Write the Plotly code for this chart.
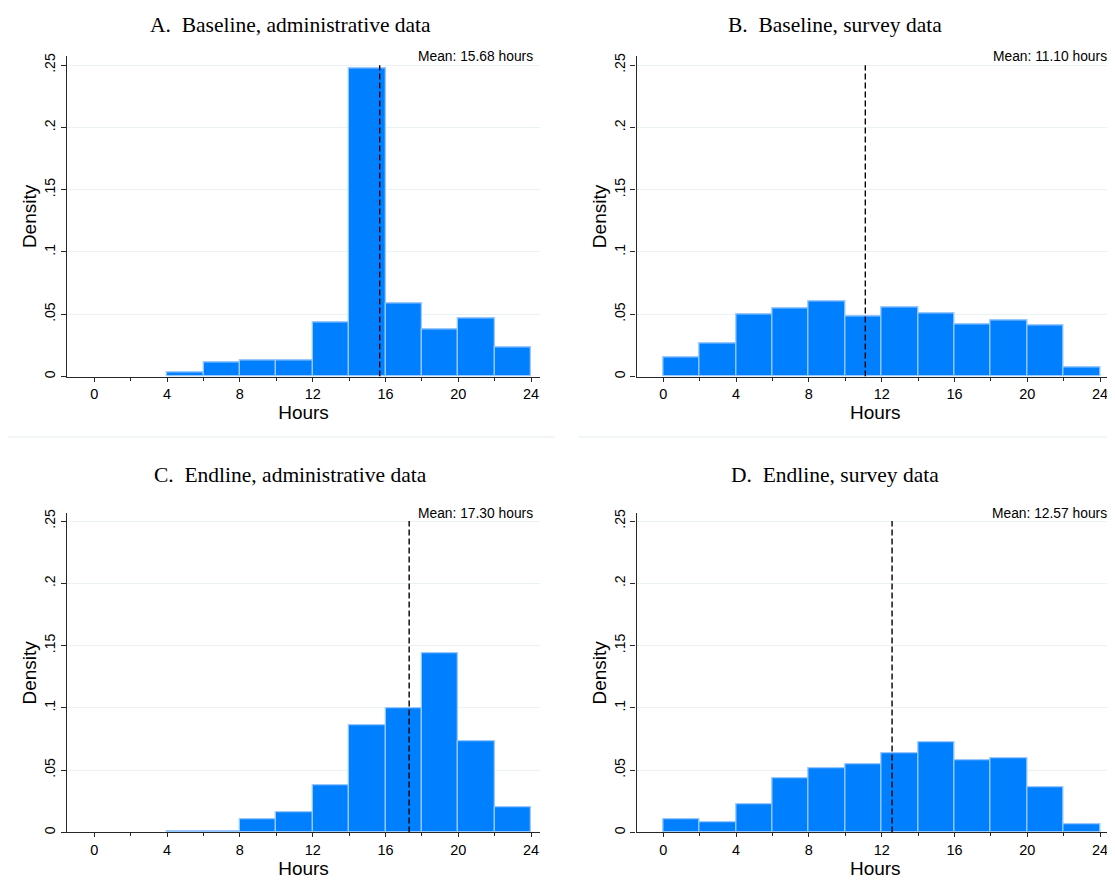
import plotly.graph_objects as go

# ---------------- data ----------------
bin_left = [0, 2, 4, 6, 8, 10, 12, 14, 16, 18, 20, 22]
bin_width = 2

panel_titles = ["A.  Baseline, administrative data",
                "B.  Baseline, survey data",
                "C.  Endline, administrative data",
                "D.  Endline, survey data"]

dens_a = [0.0, 0.0, 0.0032, 0.0112, 0.0130, 0.0130, 0.0434, 0.2471, 0.0590, 0.0375, 0.0465, 0.0234]
dens_b = [0.0152, 0.0263, 0.0497, 0.0545, 0.0606, 0.0481, 0.0553, 0.0503, 0.0420, 0.0449, 0.0410, 0.0072]
dens_c = [0.0, 0.0, 0.0013, 0.0013, 0.0106, 0.0162, 0.0382, 0.0862, 0.0995, 0.1442, 0.0735, 0.0202]
dens_d = [0.0106, 0.0080, 0.0225, 0.0438, 0.0517, 0.0546, 0.0637, 0.0727, 0.0576, 0.0592, 0.0366, 0.0066]

means = [15.68, 11.10, 17.30, 12.57]
mean_labels = ["Mean: 15.68 hours", "Mean: 11.10 hours", "Mean: 17.30 hours", "Mean: 12.57 hours"]

x_ticks = [0, 4, 8, 12, 16, 20, 24]
y_ticks = [0, 0.05, 0.1, 0.15, 0.2, 0.25]
y_ticklabels = ["0", ".05", ".1", ".15", ".2", ".25"]

# ---------------- geometry ----------------
# The page body has an 8px margin at top-left; the figure is shrunk so
# that it ends exactly at the window edge, and positions are shifted by 8px.
OFF = 8
W, H = 1115 - OFF, 892 - OFF


def px(x):
    return (x - OFF) / W


def py(y):
    return 1 - (y - OFF) / H


BAR_FILL = "rgb(0,127,255)"
BAR_LINE = "rgb(150,200,255)"
GRID = "rgb(234,242,243)"
AXIS = "rgb(40,40,40)"
SANS = "Liberation Sans, Arial, Helvetica, sans-serif"
SERIF = "Liberation Serif, Times New Roman, serif"

# pixel boxes in reference coords: (x0, x1, ytop, ybottom)
boxes = [(67, 540, 52.7, 375), (636.5, 1114, 52.7, 375),
         (67, 540, 512.7, 834), (636.5, 1114, 512.7, 834)]
px_per_hour = 18.2
zero_px = [94.3, 663.3, 94.3, 663.3]
px_per_unit = 62.7 / 0.05

all_dens = [dens_a, dens_b, dens_c, dens_d]

fig = go.Figure()
layout = {}
shapes = []
annotations = []

for i, (dens, box) in enumerate(zip(all_dens, boxes)):
    n = i + 1
    xa = "x" if n == 1 else f"x{n}"
    ya = "y" if n == 1 else f"y{n}"
    x0, x1, yt, yb = box
    xr = [(x0 - zero_px[i]) / px_per_hour, (x1 - zero_px[i]) / px_per_hour]
    yr = [0, (yb - yt) / px_per_unit]

    xs = [l + bin_width / 2 for l, d in zip(bin_left, dens) if d > 0]
    ys = [d for d in dens if d > 0]
    fig.add_trace(go.Bar(x=xs, y=ys, width=bin_width, xaxis=xa, yaxis=ya,
                         marker=dict(color=BAR_FILL, line=dict(color=BAR_LINE, width=1.3)),
                         showlegend=False, hoverinfo="skip"))

    xkey = "xaxis" if n == 1 else f"xaxis{n}"
    ykey = "yaxis" if n == 1 else f"yaxis{n}"
    layout[xkey] = dict(domain=[px(x0), min(px(x1), 1)], range=xr, anchor=ya,
                        tickmode="array", tickvals=x_ticks, ticktext=[str(t) for t in x_ticks],
                        ticks="outside", ticklen=4, tickcolor=AXIS, tickwidth=1,
                        minor=dict(tickmode="array", tickvals=[2, 6, 10, 14, 18, 22], ticks="outside",
                                   ticklen=3, tickcolor=AXIS, showgrid=False),
                        showline=True, linecolor=AXIS, linewidth=1.2,
                        showgrid=False, zeroline=False,
                        tickfont=dict(family=SANS, size=14.5, color="black"),
                        title=dict(text="Hours", font=dict(family=SANS, size=19, color="black"), standoff=0),
                        fixedrange=True)
    layout[ykey] = dict(domain=[py(yb), py(yt)], range=yr, anchor=xa,
                        tickmode="array", tickvals=y_ticks, ticktext=y_ticklabels,
                        tickangle=-90,
                        ticks="outside", ticklen=5, tickcolor=AXIS, tickwidth=1,
                        showline=True, linecolor=AXIS, linewidth=1.2,
                        showgrid=True, gridcolor=GRID, gridwidth=1, zeroline=False,
                        tickfont=dict(family=SANS, size=14, color="black"),
                        title=dict(text="Density", font=dict(family=SANS, size=19, color="black"), standoff=0),
                        fixedrange=True)

    # mean line
    shapes.append(dict(type="line", xref=xa, yref=ya, x0=means[i], x1=means[i], y0=0, y1=0.25,
                       line=dict(color="black", width=1.4, dash="6px,3px")))
    # mean label
    annotations.append(dict(text=mean_labels[i], xref="paper", yref="paper",
                            x=px(x1 - 5), y=py(yt + 0.5), xanchor="right", yanchor="middle",
                            showarrow=False, font=dict(family=SANS, size=13.8, color="black")))
    # panel title
    cx = 290 if n in (1, 3) else 835
    cy = 21 if n in (1, 2) else 474
    annotations.append(dict(text=panel_titles[i], xref="paper", yref="paper",
                            x=px(cx), y=py(cy), xanchor="center", yanchor="middle",
                            showarrow=False, font=dict(family=SERIF, size=21.5, color="black")))

# light separator lines beneath top panels
for (a, b) in [(5, 555), (578, 1115)]:
    shapes.append(dict(type="line", xref="paper", yref="paper", x0=px(a), x1=min(px(b), 1),
                       y0=py(436), y1=py(436), line=dict(color="rgb(236,243,243)", width=1.5)))

fig.update_layout(width=W, height=H, margin=dict(l=0, r=0, t=0, b=0),
                  plot_bgcolor="white", paper_bgcolor="white",
                  bargap=0, shapes=shapes, annotations=annotations, **layout)

fig.write_html("out.html")
